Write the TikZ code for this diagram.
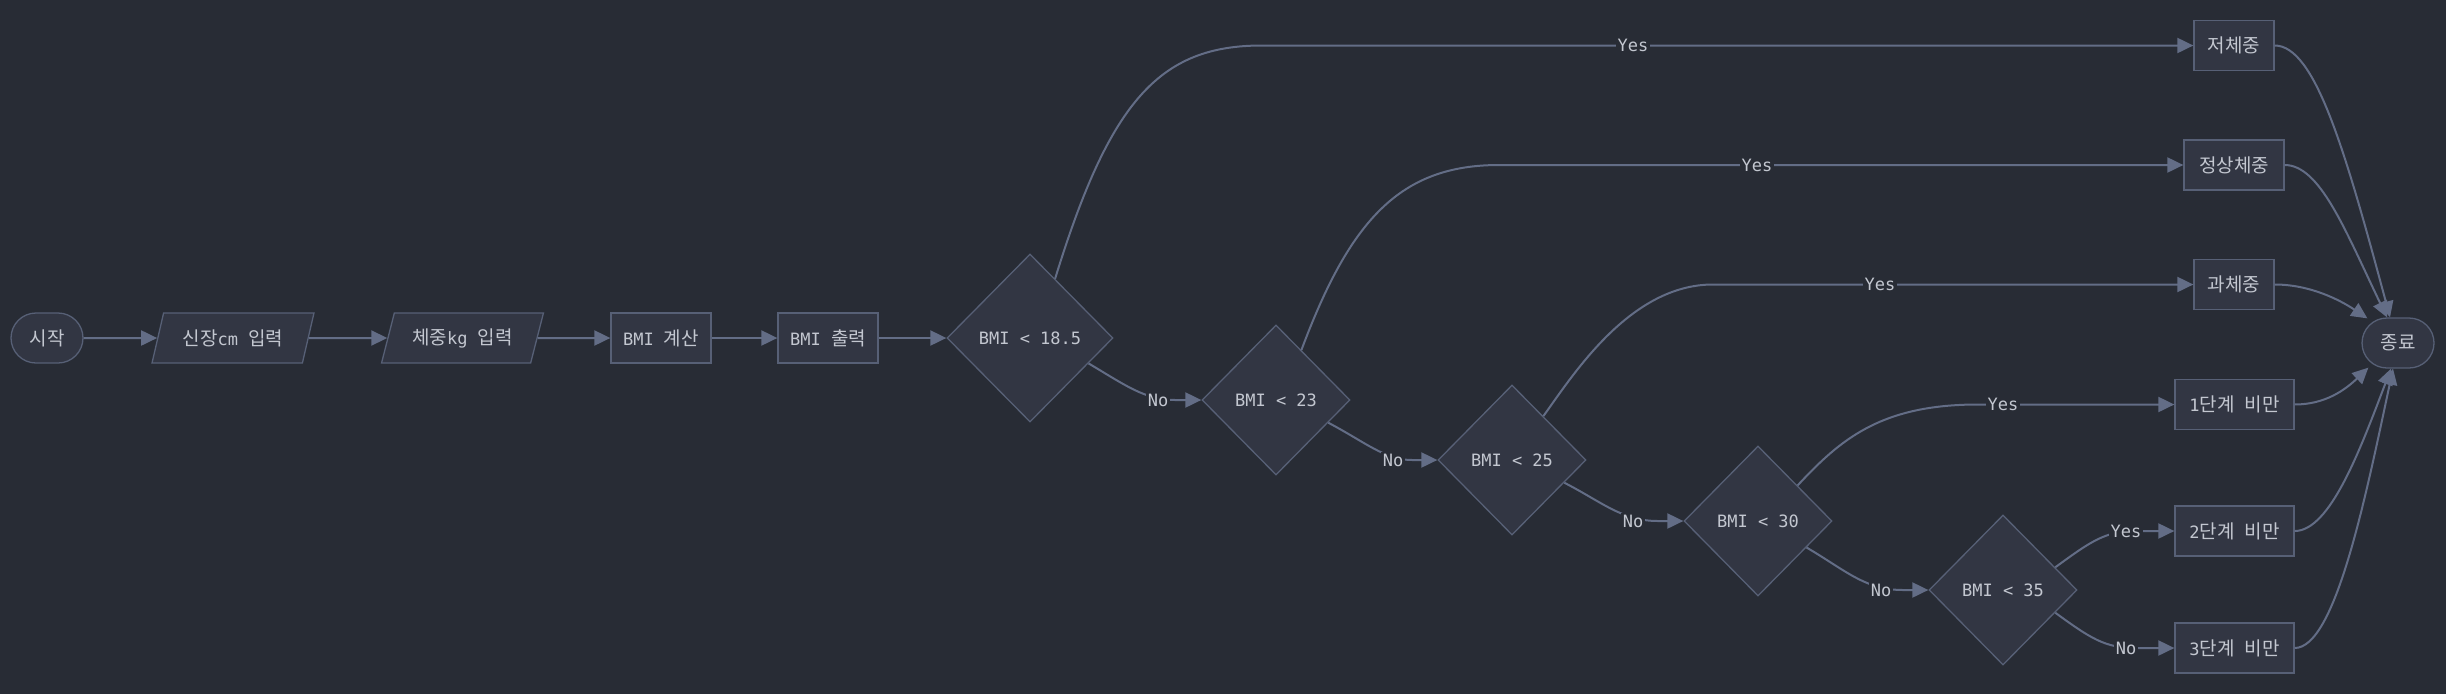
\documentclass[tikz,border=0pt]{standalone}
\usepackage{fontspec}
\setmainfont{Noto Sans CJK KR}
\newfontfamily\mono{DejaVu Sans Mono}
\usetikzlibrary{shapes.geometric,arrows.meta,calc}
\definecolor{bgc}{HTML}{282C35}
\definecolor{nodefill}{HTML}{323643}
\definecolor{nodeline}{HTML}{576076}
\definecolor{edgec}{HTML}{636D86}
\definecolor{txt}{HTML}{C3C7D0}
\newcommand{\lat}[1]{{\mono\fontsize{17}{22}\selectfont #1}}
\begin{document}
\begin{tikzpicture}[x=1pt,y=-1pt,
  base/.style={draw=nodeline, fill=nodefill, line width=1.3pt, text=txt, font=\fontsize{19}{22}\selectfont, inner sep=0pt},
  term/.style={base, rectangle, rounded corners=25pt, minimum width=72pt, minimum height=50pt},
  io/.style={base, trapezium, trapezium left angle=64, trapezium right angle=116, trapezium stretches=true, minimum width=162pt, minimum height=50pt},
  proc/.style={base, rectangle, minimum height=50pt},
  dec/.style={base, diamond, minimum width=148pt, minimum height=150pt},
  conn/.style={draw=edgec, line width=2pt, -{Triangle[length=16pt,width=15pt]}},
  lbl/.style={fill=bgc, text=txt, font=\mono\fontsize{17}{22}\selectfont, inner sep=1.5pt}
]
\fill[bgc] (0,0) rectangle (2446,694);
\useasboundingbox (0,0) rectangle (2446,694);

% nodes
\node[term] (start) at (47,338) {시작};
\node[io] (in1) at (233,338) {신장\lat{cm }입력};
\node[io] (in2) at (462.5,338) {체중\lat{kg }입력};
\node[proc, minimum width=100pt] (calc) at (661,338) {\lat{BMI }계산};
\node[proc, minimum width=100pt] (out) at (828,338) {\lat{BMI }출력};
\node[dec, minimum width=166pt, minimum height=168pt] (d1) at (1030,338) {\lat{BMI < 18.5}};
\node[dec] (d2) at (1276,400) {\lat{BMI < 23}};
\node[dec] (d3) at (1512,460) {\lat{BMI < 25}};
\node[dec] (d4) at (1758,521) {\lat{BMI < 30}};
\node[dec] (d5) at (2003,590) {\lat{BMI < 35}};
\node[proc, minimum width=80pt] (low) at (2234,45.5) {저체중};
\node[proc, minimum width=100pt] (normal) at (2234,165) {정상체중};
\node[proc, minimum width=80pt] (over) at (2234,284.5) {과체중};
\node[proc, minimum width=119pt] (ob1) at (2234.5,404.5) {\lat{1}단계\lat{ }비만};
\node[proc, minimum width=119pt] (ob2) at (2234.5,531) {\lat{2}단계\lat{ }비만};
\node[proc, minimum width=119pt] (ob3) at (2234.5,648) {\lat{3}단계\lat{ }비만};
\node[term] (stop) at (2398,343) {종료};

% main chain
\draw[conn] (start) -- (in1);
\draw[conn] (in1) -- (in2);
\draw[conn] (in2) -- (calc);
\draw[conn] (calc) -- (out);
\draw[conn] (out) -- (d1);

% yes branches
\draw[conn] ($(d1.north)!0.3!(d1.east)$) .. controls (1110,100) and (1160,45.5) .. (1262,45.5) -- (low.west);
\draw[conn] ($(d2.north)!0.34!(d2.east)$) .. controls (1350,220) and (1400,165) .. (1499,165) -- (normal.west);
\draw[conn] ($(d3.north)!0.42!(d3.east)$) .. controls (1573,375) and (1630,284.5) .. (1713,284.5) -- (over.west);
\draw[conn] ($(d4.north)!0.53!(d4.east)$) .. controls (1840,440) and (1880,404.5) .. (1978,404.5) -- (ob1.west);
\draw[conn] ($(d5.north)!0.7!(d5.east)$) .. controls (2090,542) and (2105,531) .. (2135,531) -- (ob2.west);

% no branches
\draw[conn] ($(d1.south)!0.7!(d1.east)$) .. controls (1125,385) and (1145,400) .. (1175,400) -- (d2.west);
\draw[conn] ($(d2.south)!0.7!(d2.east)$) .. controls (1365,442) and (1385,460) .. (1412,460) -- (d3.west);
\draw[conn] ($(d3.south)!0.7!(d3.east)$) .. controls (1602,502) and (1622,521) .. (1658,521) -- (d4.west);
\draw[conn] ($(d4.south)!0.65!(d4.east)$) .. controls (1845,570) and (1865,590) .. (1903,590) -- (d5.west);
\draw[conn] ($(d5.south)!0.7!(d5.east)$) .. controls (2090,638) and (2105,648) .. (2135,648) -- (ob3.west);

% to end
\draw[conn] (low.east) .. controls (2315,45.5) and (2345,150) .. ($(stop.north)+(-8,0)$);
\draw[conn] (normal.east) .. controls (2320,165) and (2345,230) .. ($(stop.north)+(-11,0)$);
\draw[conn] (over.east) .. controls (2310,284.5) and (2340,300) .. ($(stop.north west)+(6,1)$);
\draw[conn] (ob1.east) .. controls (2325,404.5) and (2345,390) .. ($(stop.south west)+(7,-1)$);
\draw[conn] (ob2.east) .. controls (2330,531) and (2360,450) .. ($(stop.south)+(-7,0)$);
\draw[conn] (ob3.east) .. controls (2335,648) and (2365,500) .. ($(stop.south)+(-5,0)$);

% labels
\node[lbl] (y1) at (1633,45.5) {Yes};
\node[lbl] (y2) at (1757,165) {Yes};
\node[lbl] (y3) at (1880,284.5) {Yes};
\node[lbl] (y4) at (2003,404.5) {Yes};
\node[lbl] (y5) at (2126,531) {Yes};
\node[lbl] (n1) at (1158,400) {No};
\node[lbl] (n2) at (1393,460) {No};
\node[lbl] (n3) at (1633,521) {No};
\node[lbl] (n4) at (1881,590) {No};
\node[lbl] (n5) at (2126,648) {No};
\end{tikzpicture}
\end{document}
